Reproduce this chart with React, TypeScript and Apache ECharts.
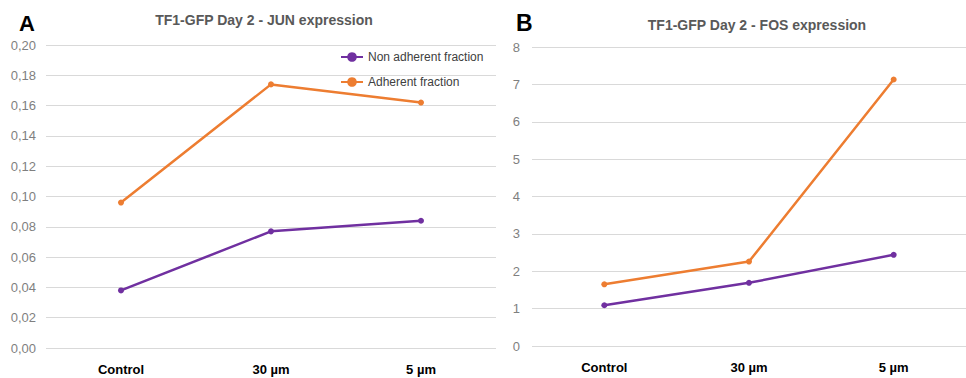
import React, { useEffect, useRef } from "react";
import * as echarts from "echarts";

const categories = ["Control", "30 µm", "5 µm"];
const junNonAdherent = [0.038, 0.077, 0.084];
const junAdherent = [0.096, 0.174, 0.162];
const fosNonAdherent = [1.09, 1.69, 2.44];
const fosAdherent = [1.65, 2.26, 7.13];
const junTicks = [0, 0.2, 0.02];
const fosTicks = [0, 8, 1];

const PURPLE = "#7030a0";
const ORANGE = "#ed7d31";

export default function App() {
  const ref = useRef<HTMLDivElement>(null);
  useEffect(() => {
    if (!ref.current) return;
    const chart = echarts.init(ref.current, undefined, { renderer: "svg" });
    const font = "'Liberation Sans', Arial, sans-serif";
    const catAxis = (gridIndex: number) => ({
      type: "category",
      gridIndex,
      data: categories,
      boundaryGap: true,
      axisLine: { show: false },
      axisTick: { show: false },
      axisLabel: { color: "#000", fontWeight: "bold", fontSize: 13, fontFamily: font, margin: 15 },
    });
    const valAxis = (gridIndex: number, t: number[], fmt: (v: number) => string, margin: number) => ({
      type: "value",
      gridIndex,
      min: t[0],
      max: t[1],
      interval: t[2],
      axisLine: { show: false },
      axisTick: { show: false },
      splitLine: { lineStyle: { color: "#d9d9d9", width: 1 } },
      axisLabel: { color: "#7f7f7f", fontSize: 13, fontFamily: font, margin, formatter: fmt },
    });
    const lineSeries = (name: string, data: number[], color: string, idx: number) => ({
      type: "line",
      name,
      data,
      xAxisIndex: idx,
      yAxisIndex: idx,
      symbol: "circle",
      symbolSize: 6,
      itemStyle: { color },
      lineStyle: { color, width: 2.5 },
    });
    chart.setOption({
      animation: false,
      backgroundColor: "#fff",
      textStyle: { fontFamily: font },
      title: [
        { text: "TF1-GFP Day 2 - JUN expression", left: 259, textAlign: "center", top: 8, textStyle: { color: "#595959", fontSize: 14, fontWeight: "bold", fontFamily: font } },
        { text: "TF1-GFP Day 2 - FOS expression", left: 752, textAlign: "center", top: 13, textStyle: { color: "#595959", fontSize: 14, fontWeight: "bold", fontFamily: font } },
        { text: "A", left: 19, top: 12, padding: 0, textStyle: { color: "#000", fontSize: 22, fontWeight: "bold", fontFamily: font } },
        { text: "B", left: 516, top: 11, padding: 0, textStyle: { color: "#000", fontSize: 23, fontWeight: "bold", fontFamily: font } },
      ],
      legend: {
        orient: "vertical",
        left: 335,
        top: 46,
        itemWidth: 22,
        itemHeight: 12,
        itemGap: 13,
        data: ["Non adherent fraction", "Adherent fraction"],
        textStyle: { color: "#404040", fontSize: 12, fontFamily: font },
      },
      grid: [
        { left: 46, width: 450, top: 45, height: 303 },
        { left: 532, width: 446, top: 47, height: 299 },
      ],
      xAxis: [catAxis(0), catAxis(1)],
      yAxis: [
        valAxis(0, junTicks, (v: number) => v.toFixed(2).replace(".", ","), 10),
        valAxis(1, fosTicks, (v: number) => String(v), 12),
      ],
      series: [
        lineSeries("Non adherent fraction", junNonAdherent, PURPLE, 0),
        lineSeries("Adherent fraction", junAdherent, ORANGE, 0),
        lineSeries("Non adherent fraction", fosNonAdherent, PURPLE, 1),
        lineSeries("Adherent fraction", fosAdherent, ORANGE, 1),
      ],
    });
    return () => chart.dispose();
  }, []);
  return <div ref={ref} style={{ position: "absolute", left: 0, top: 0, width: 966, height: 378 }} />;
}
